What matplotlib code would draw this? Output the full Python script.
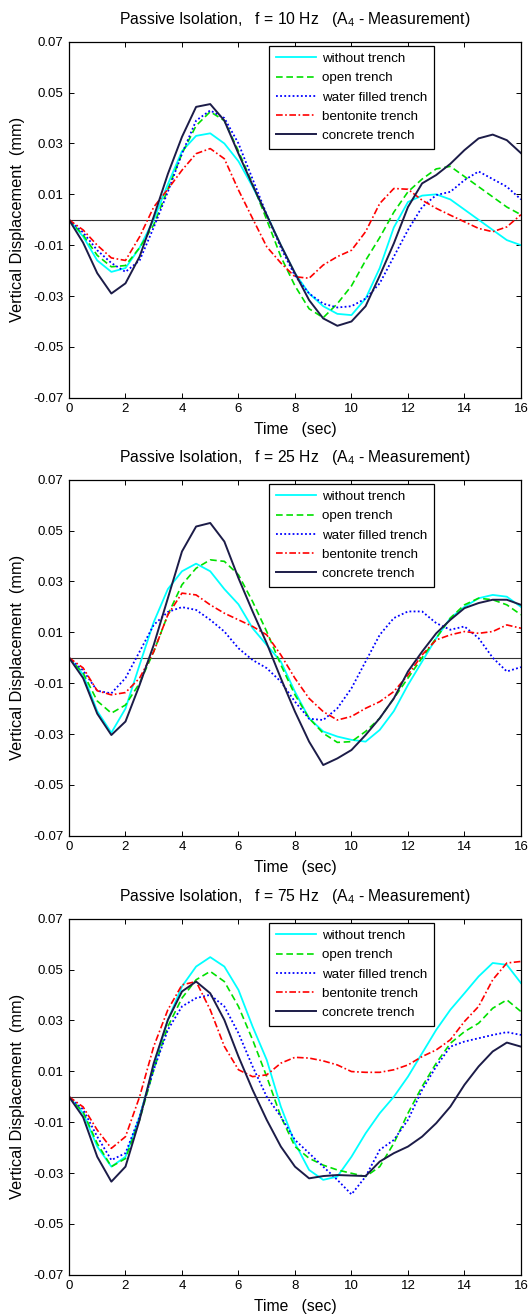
import numpy as np
import matplotlib
matplotlib.use('Agg')
import matplotlib.pyplot as plt

plt.rcParams['font.family'] = ['Liberation Sans', 'DejaVu Sans']
plt.rcParams['mathtext.default'] = 'regular'

# tiempo de muestreo (s), cada 0.5 s
tiempo = np.arange(0, 16.01, 0.5)

frecuencias = [10, 25, 75]
etiquetas = ['without trench', 'open trench', 'water filled trench',
             'bentonite trench', 'concrete trench']

# f = 10 Hz
sin_zanja_10 = [0, -0.0066, -0.016, -0.0205, -0.019, -0.011, 0.0, 0.014, 0.027, 0.033, 0.034,
                0.030, 0.023, 0.013, 0.002, -0.010, -0.021, -0.029, -0.034, -0.037, -0.0375,
                -0.031, -0.019, -0.003, 0.007, 0.0095, 0.010, 0.008, 0.004, 0.000, -0.004,
                -0.008, -0.010]
abierta_10 = [0, -0.006, -0.014, -0.0185, -0.018, -0.011, -0.002, 0.012, 0.026, 0.037, 0.0425,
              0.039, 0.027, 0.014, 0.000, -0.0145, -0.026, -0.035, -0.0385, -0.033, -0.026,
              -0.016, -0.007, 0.003, 0.011, 0.016, 0.020, 0.021, 0.017, 0.013, 0.009, 0.005,
              0.002]
agua_10 = [0, -0.005, -0.012, -0.017, -0.0205, -0.016, -0.003, 0.011, 0.026, 0.039, 0.043,
           0.040, 0.030, 0.016, 0.002, -0.011, -0.022, -0.029, -0.033, -0.0345, -0.034,
           -0.031, -0.025, -0.0145, -0.004, 0.005, 0.0097, 0.011, 0.0156, 0.019, 0.016, 0.013,
           0.008]
bentonita_10 = [0, -0.004, -0.010, -0.015, -0.016, -0.0067, 0.005, 0.012, 0.0195, 0.026, 0.028,
                0.024, 0.0117, 0.0005, -0.0106, -0.017, -0.0224, -0.023, -0.0178, -0.0145,
                -0.012, -0.0047, 0.0064, 0.0123, 0.012, 0.0077, 0.0045, 0.0018, -0.0008,
                -0.0034, -0.0047, -0.0028, 0.002]
hormigon_10 = [0, -0.009, -0.021, -0.029, -0.025, -0.0145, 0.0012, 0.018, 0.0326, 0.0444, 0.0455,
               0.039, 0.026, 0.0136, 0.0018, -0.010, -0.021, -0.0316, -0.0388, -0.0417, -0.040,
               -0.034, -0.022, -0.0093, 0.005, 0.0143, 0.0176, 0.022, 0.0274, 0.032, 0.0335,
               0.0313, 0.0262]

# f = 25 Hz
sin_zanja_25 = [0, -0.0066, -0.021, -0.0295, -0.020, -0.0028, 0.014, 0.027, 0.034, 0.037, 0.034,
                0.027, 0.021, 0.0116, 0.005, -0.0015, -0.0134, -0.0238, -0.029, -0.031, -0.0323,
                -0.033, -0.0284, -0.021, -0.0107, -0.0015, 0.0077, 0.0156, 0.020, 0.0234, 0.0247,
                0.024, 0.020]
abierta_25 = [0, -0.006, -0.017, -0.0218, -0.0186, -0.010, 0.0024, 0.0169, 0.0287, 0.0352, 0.0385,
              0.0379, 0.0326, 0.0221, 0.0103, -0.0028, -0.0146, -0.0238, -0.0297, -0.0333, -0.033,
              -0.029, -0.0238, -0.016, -0.008, 0.0, 0.0077, 0.0156, 0.0208, 0.0234, 0.0228,
              0.0208, 0.0169]
agua_25 = [0, -0.005, -0.013, -0.014, -0.008, 0.0024, 0.0129, 0.018, 0.0199, 0.0188, 0.0149,
           0.0103, 0.0037, -0.0009, -0.0041, -0.0094, -0.0173, -0.024, -0.0245, -0.0199, -0.012,
           -0.0015, 0.009, 0.0156, 0.0182, 0.0182, 0.0136, 0.011, 0.0123, 0.0077, 0.0, -0.0054,
           -0.0037]
bentonita_25 = [0, -0.004, -0.013, -0.0146, -0.0137, -0.008, 0.0024, 0.0169, 0.0254, 0.0247,
                0.0208, 0.0175, 0.0149, 0.0123, 0.009, 0.0011, -0.0081, -0.016, -0.0212, -0.0245,
                -0.0231, -0.0199, -0.0173, -0.0133, -0.0068, 0.0011, 0.007, 0.009, 0.0103, 0.0096,
                0.0103, 0.0129, 0.0116]
hormigon_25 = [0, -0.008, -0.022, -0.0304, -0.0251, -0.0107, 0.005, 0.0234, 0.0418, 0.0516, 0.053,
               0.0457, 0.0313, 0.0182, 0.0057, -0.0081, -0.0212, -0.033, -0.0422, -0.0396, -0.0363,
               -0.0304, -0.0238, -0.016, -0.0054, 0.0024, 0.0096, 0.0149, 0.0195, 0.0215, 0.0228,
               0.0228, 0.0208]

# f = 75 Hz
sin_zanja_75 = [0, -0.0065, -0.0196, -0.0275, -0.0236, -0.0078, 0.0119, 0.0302, 0.0434, 0.0512,
                0.0549, 0.0512, 0.042, 0.0276, 0.0145, -0.0039, -0.0183, -0.0288, -0.0327, -0.0314,
                -0.0236, -0.0144, -0.0065, 0.0, 0.0079, 0.0171, 0.0263, 0.0342, 0.0407, 0.0473,
                0.0526, 0.0519, 0.0447]
abierta_75 = [0, -0.006, -0.0184, -0.0275, -0.0243, -0.0091, 0.0106, 0.0276, 0.0388, 0.046, 0.0493,
              0.0453, 0.0355, 0.0224, 0.0079, -0.0078, -0.0196, -0.0242, -0.0269, -0.0288, -0.0301,
              -0.0314, -0.0275, -0.0183, -0.0065, 0.004, 0.0132, 0.021, 0.0256, 0.0289, 0.0348,
              0.0381, 0.0335]
agua_75 = [0, -0.005, -0.0157, -0.0249, -0.0222, -0.0078, 0.0106, 0.0263, 0.0355, 0.0388, 0.0401,
           0.0355, 0.025, 0.0119, 0.0, -0.0078, -0.017, -0.0222, -0.0275, -0.0327, -0.0384,
           -0.0314, -0.0209, -0.017, -0.0091, 0.0027, 0.0119, 0.0197, 0.0217, 0.023, 0.0243,
           0.0254, 0.0243]
bentonita_75 = [0, -0.004, -0.0131, -0.0203, -0.0157, 0.0, 0.0198, 0.0342, 0.044, 0.0453, 0.0342,
                0.0198, 0.0106, 0.0079, 0.0086, 0.0132, 0.0155, 0.0152, 0.0141, 0.0125, 0.0099,
                0.0096, 0.0096, 0.0106, 0.0125, 0.0158, 0.0184, 0.0224, 0.0296, 0.0355, 0.046,
                0.0526, 0.0532]
hormigon_75 = [0, -0.008, -0.0236, -0.0334, -0.0275, -0.0091, 0.0132, 0.0302, 0.0414, 0.0453,
               0.0407, 0.0302, 0.0158, 0.0027, -0.0091, -0.0196, -0.0275, -0.0321, -0.0312,
               -0.0308, -0.031, -0.0312, -0.0255, -0.0222, -0.0196, -0.0157, -0.0104, -0.0039,
               0.0047, 0.0119, 0.0178, 0.0213, 0.0197]

datos = [
    [sin_zanja_10, abierta_10, agua_10, bentonita_10, hormigon_10],
    [sin_zanja_25, abierta_25, agua_25, bentonita_25, hormigon_25],
    [sin_zanja_75, abierta_75, agua_75, bentonita_75, hormigon_75],
]

y_ticks = [-0.07, -0.05, -0.03, -0.01, 0.01, 0.03, 0.05, 0.07]
y_tick_labels = ['-0.07', '-0.05', '-0.03', '-0.01', '0.01', '0.03', '0.05', '0.07']
x_ticks = [0, 2, 4, 6, 8, 10, 12, 14, 16]

estilos = [
    dict(color='#00FFFF', ls='-', lw=1.3),
    dict(color='#00E000', ls=(0, (4, 2.2)), lw=1.2),
    dict(color='#0000FF', ls=(0, (1, 1.3)), lw=1.3),
    dict(color='#FF0000', ls=(0, (4, 1.5, 1, 1.5)), lw=1.2),
    dict(color='#1C1C48', ls='-', lw=1.4),
]

fig = plt.figure(figsize=(5.29, 13.14), dpi=100)
bottoms = [0.6973, 0.3640, 0.0299]

for k in range(3):
    ax = fig.add_axes([0.1304, bottoms[k], 0.8544, 0.2709])
    ax.axhline(0, color='#333333', lw=0.8)
    for serie, est, lab in zip(datos[k], estilos, etiquetas):
        ax.plot(tiempo, serie, label=lab, **est)

    ax.set_xlim(0, 16)
    ax.set_ylim(-0.07, 0.07)
    ax.set_xticks(x_ticks)
    ax.set_yticks(y_ticks)
    ax.set_yticklabels(y_tick_labels)
    ax.tick_params(direction='in', top=True, right=True, labelsize=9.5, length=3.5, width=0.7, pad=4)
    for s in ax.spines.values():
        s.set_linewidth(0.9)

    ax.set_title('Passive Isolation,   f = %d Hz   (A$_4$ - Measurement)' % frecuencias[k],
                 fontsize=11.3, pad=13)
    ax.set_xlabel('Time   (sec)', fontsize=11.3, labelpad=5)
    ax.set_ylabel('Vertical Displacement  (mm)', fontsize=11.8)
    ax.yaxis.set_label_coords(-0.097, 0.5)

    leg = ax.legend(loc='upper right', bbox_to_anchor=(0.8075, 0.988), fontsize=9.6,
                    handlelength=3.0, labelspacing=0.52, borderpad=0.5, handletextpad=0.45,
                    fancybox=False, framealpha=1, edgecolor='black', borderaxespad=0)
    leg.get_frame().set_linewidth(0.9)

fig.savefig('out.png', dpi=100)
